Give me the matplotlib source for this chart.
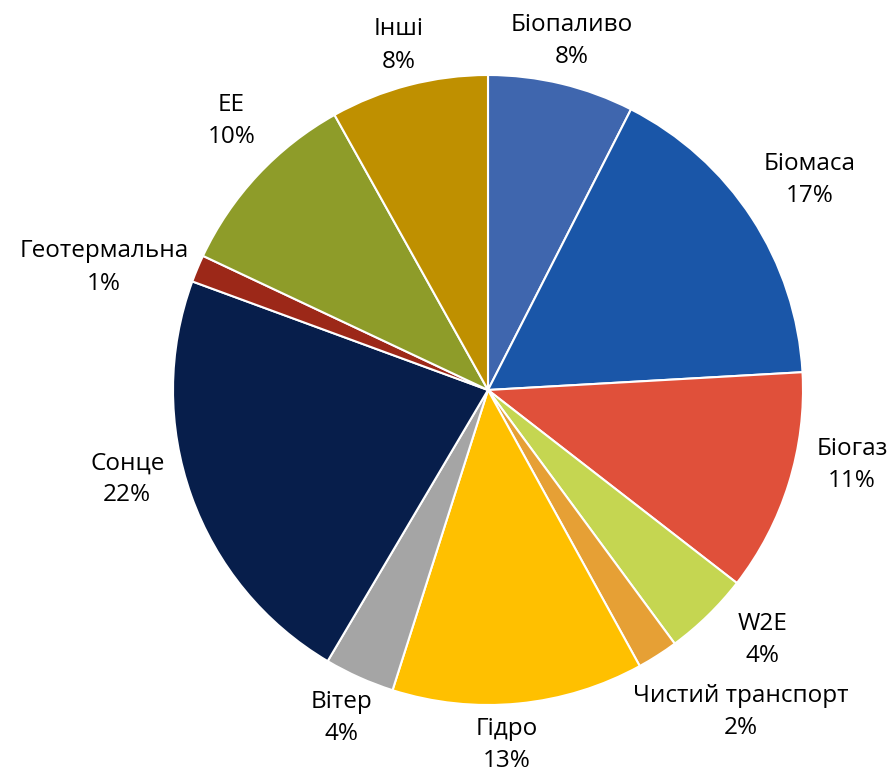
import matplotlib
matplotlib.use("Agg")
import matplotlib.pyplot as plt
import numpy as np

plt.rcParams['font.family'] = ['Open Sans', 'DejaVu Sans']

categories = ["Біопаливо", "Біомаса", "Біогаз", "W2E", "Чистий транспорт",
              "Гідро", "Вітер", "Сонце", "Геотермальна", "EE", "Інші"]
values = [7.5, 16.6, 11.4, 4.4, 2.1, 12.9, 3.6, 22.1, 1.4, 9.9, 8.1]
colors = ["#3F66AE", "#1A56A8", "#E0503A", "#C5D651", "#E6A035", "#FFC000",
          "#A5A5A5", "#071E4B", "#9C2818", "#8E9C29", "#BF9000"]

# layout: radial distance factor and angular nudge (deg, clockwise) per label
label_dist = [1.14, 1.22, 1.18, 1.18, 1.30, 1.13, 1.14, 1.18, 1.28, 1.18, 1.13]
label_nudge = [0, 0, -5.7, -3.4, -5.6, 2.5, 0, 5.7, -5, 3.3, 0]

W, H, DPI = 896, 772, 100
cx, cy, R = 488, 390, 315
fig = plt.figure(figsize=(W / DPI, H / DPI), dpi=DPI)
ax = fig.add_axes([0, 0, 1, 1])

wedges, _ = ax.pie(values, colors=colors, startangle=90, counterclock=False,
                   wedgeprops=dict(edgecolor="white", linewidth=1.5))

total = sum(values)
for w, name, v, d, nd in zip(wedges, categories, values, label_dist, label_nudge):
    mid = np.deg2rad((w.theta1 + w.theta2) / 2 - nd)
    x, y = d * np.cos(mid), d * np.sin(mid)
    ax.text(x, y, f"{name}\n{round(v / total * 100):.0f}%", ha="center", va="center",
            fontsize=17.5, color="black", linespacing=1.45)

ax.set_xlim(-cx / R, (W - cx) / R)
ax.set_ylim(-(H - cy) / R, cy / R)
ax.set_aspect("equal")
ax.axis("off")
fig.savefig("out.png", dpi=DPI, facecolor="white")
